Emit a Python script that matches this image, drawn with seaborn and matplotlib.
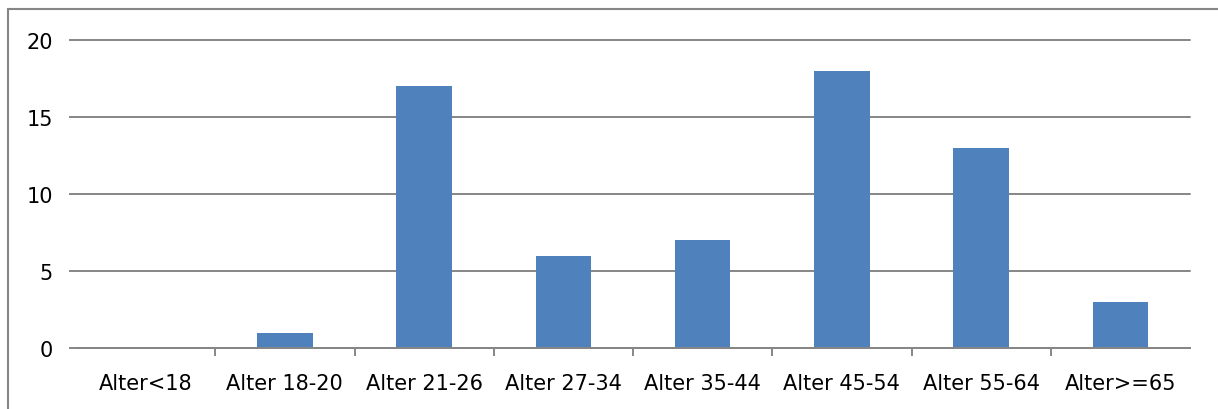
import matplotlib
matplotlib.use("Agg")
import matplotlib.pyplot as plt
import seaborn as sns
import pandas as pd
from matplotlib.patches import Rectangle

categories = ["Alter<18", "Alter 18-20", "Alter 21-26", "Alter 27-34",
              "Alter 35-44", "Alter 45-54", "Alter 55-64", "Alter>=65"]
counts = [0, 1, 17, 6, 7, 18, 13, 3]
y_ticks = [0, 5, 10, 15, 20]

sns.set_theme(style="white")
plt.rcParams["font.family"] = ["DejaVu Sans"]

grey = "#868686"
bar_color = "#4F81BD"

df = pd.DataFrame({"category": categories, "count": counts})

W, H = 1218, 410
fig = plt.figure(figsize=(W / 100, H / 100), dpi=100)
ax = fig.add_axes([76 / W, (H - 349) / H, (1190 - 76) / W, (349 - 41) / H])

sns.barplot(data=df, x="category", y="count", color=bar_color,
            width=0.4, saturation=1, linewidth=0, ax=ax, zorder=3)

ax.set_ylim(0, 20)
ax.set_xlim(-0.5, len(categories) - 0.5)
ax.set_yticks(y_ticks)
ax.yaxis.grid(True, color=grey, linewidth=1.4, zorder=0)
for gl in ax.get_ygridlines():
    gl.set_clip_on(False)
ax.set_xlabel("")
ax.set_ylabel("")

for side in ["top", "right", "left"]:
    ax.spines[side].set_visible(False)
ax.spines["bottom"].set_color(grey)
ax.spines["bottom"].set_linewidth(1.4)
ax.spines["bottom"].set_zorder(4)

# category ticks sit on the boundaries between groups
ax.set_xticks([i + 0.5 for i in range(len(categories) - 1)], minor=True)
ax.tick_params(axis="x", which="minor", length=6, width=1.4, color=grey,
               direction="out", bottom=True)
ax.tick_params(axis="x", which="major", length=0, pad=18, labelsize=15,
               labelcolor="black")
ax.tick_params(axis="y", length=5, width=1.4, color=grey, direction="out",
               left=True, pad=11.5, labelsize=15, labelcolor="black")

# outer chart frame
fig.patches.append(Rectangle((8 / W, -0.1), 1.2, (H - 10) / H + 0.1,
                             transform=fig.transFigure, fill=False,
                             edgecolor=grey, linewidth=1.5))

fig.savefig("out.png", dpi=100, facecolor="white")
